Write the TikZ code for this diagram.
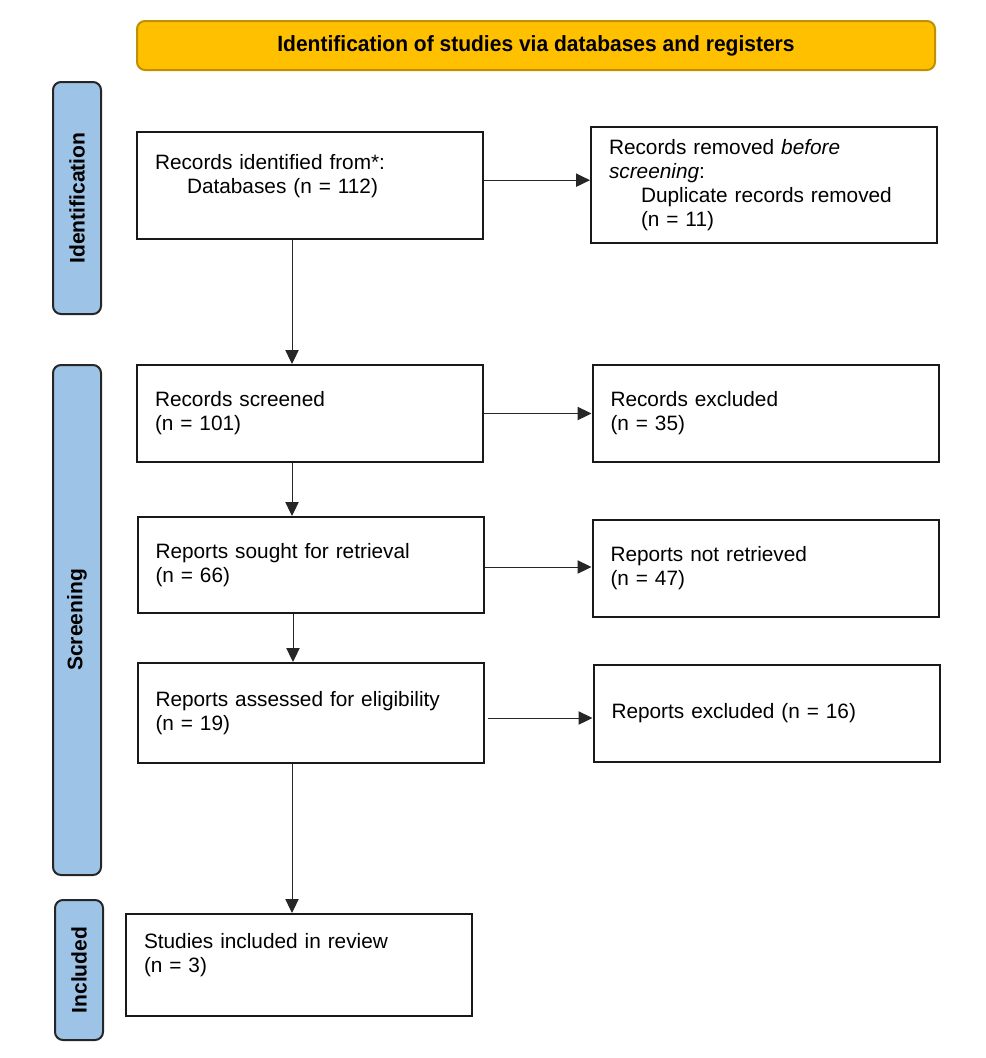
\documentclass[tikz,border=0pt]{standalone}
\usepackage{fontspec}
\setmainfont{Liberation Sans}
\usetikzlibrary{arrows.meta}
\definecolor{gold}{RGB}{255,192,0}
\definecolor{golddark}{RGB}{191,144,0}
\definecolor{sideblue}{RGB}{157,195,230}
\begin{document}
\begin{tikzpicture}[x=0.75pt,y=-0.75pt,
  box/.style={draw=black!90, line width=1.5pt, fill=white, align=left, text width=232.5pt, inner xsep=13.5pt, inner ysep=0pt, font=\fontsize{15.6}{18}\selectfont},
  side/.style={draw=black!85, line width=1.5pt, fill=sideblue, rounded corners=6pt, rotate=90, minimum height=36pt, inner sep=0pt, font=\bfseries\fontsize{15.8}{18}\selectfont},
  banner/.style={draw=golddark, line width=1.5pt, fill=gold, rounded corners=6pt, minimum width=598.5pt, minimum height=36.75pt, inner sep=0pt, font=\bfseries\fontsize{16.5}{18}\selectfont},
  arr/.style={draw=black!85, line width=0.75pt, -{Triangle[length=10.5pt,width=10pt]}}
]
\useasboundingbox (0,0) rectangle (986,1058);

\node[banner] (top) at (536,45.5) {\scalebox{0.955}[1]{Identification of studies via databases and registers}};

\node[side, minimum width=174pt] (sid) at (77,198) {Identification};
\node[side, minimum width=382.5pt] (sscr) at (77,620) {Screening};
\node[side, minimum width=105pt] (sinc) at (79,970) {Included};

\node[box, minimum height=80.25pt] (ident) at (310,185.5) {Records identified from*:\\\hspace*{24pt}Databases (n = 112)\\\mbox{}};
\node[box, minimum height=87pt] (removed) at (764,185) {Records removed \textit{before}\\\textit{screening}:\\\hspace*{24pt}Duplicate records removed\\\hspace*{24pt}(n = 11)};
\node[box, minimum height=72.75pt] (screen) at (310,413.5) {Records screened\\(n = 101)};
\node[box, minimum height=72.75pt] (excl) at (765.5,413.5) {Records excluded\\(n = 35)};
\node[box, minimum height=72pt] (sought) at (310.5,565) {Reports sought for retrieval\\(n = 66)};
\node[box, minimum height=72.75pt] (notret) at (765.5,568.5) {Reports not retrieved\\(n = 47)};
\node[box, minimum height=75pt] (assess) at (310.5,713) {Reports assessed for eligibility\\(n = 19)};
\node[box, minimum height=72.75pt] (repexcl) at (766.5,713.5) {Reports excluded (n = 16)};
\node[box, minimum height=76.5pt] (incl) at (299,965) {Studies included in review\\(n = 3)\\\mbox{}};

\coordinate (col) at (292,0);

\draw[arr] (ident.south -| col) -- (screen.north -| col);
\draw[arr] (screen.south -| col) -- (sought.north -| col);
\draw[arr] ([xshift=0.75pt]sought.south -| col) -- ([xshift=0.75pt]assess.north -| col);
\draw[arr] (assess.south -| col) -- (incl.north -| col);

\draw[arr] ([yshift=4pt]ident.east) -- ([yshift=4pt]removed.west |- ident.east);
\draw[arr] (screen.east) -- (excl.west |- screen.east);
\draw[arr] ([yshift=-1.5pt]sought.east) -- ([yshift=-1.5pt]notret.west |- sought.east);
\draw[arr] ([xshift=2.25pt,yshift=-3.75pt]assess.east) -- ([yshift=-3.75pt]repexcl.west |- assess.east);
\end{tikzpicture}
\end{document}
